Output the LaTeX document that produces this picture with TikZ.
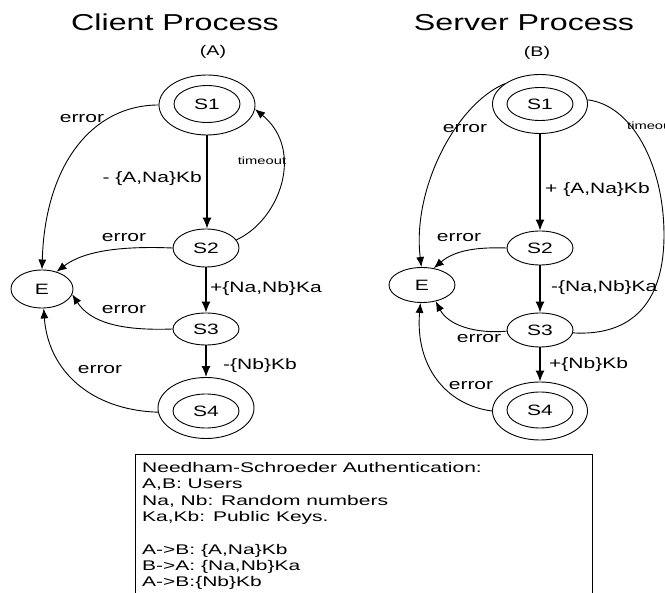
\documentclass[tikz,border=0pt]{standalone}
\usepackage{fontspec}
\setmainfont[FakeStretch=1.4]{Liberation Sans}
\newfontfamily\notefont[FakeStretch=1.5]{Liberation Sans}
\usetikzlibrary{arrows.meta,shapes.geometric}

\begin{document}
\begin{tikzpicture}[x=1pt,y=-1pt,
  state/.style={draw,ellipse,line width=0.9pt,minimum width=66pt,minimum height=36pt,
    inner sep=0pt,font=\fontsize{15}{18}\selectfont},
  outerring/.style={draw,ellipse,line width=0.9pt,minimum width=96pt,minimum height=60pt,inner sep=0pt},
  tr/.style={line width=0.9pt,-{Latex[length=10pt,width=8pt]}},
  mainarrow/.style={line width=1.2pt,-{Latex[length=11pt,width=9pt]}},
  lbl/.style={font=\fontsize{15}{18}\selectfont,inner sep=0pt},
  small/.style={font=\fontsize{10.5}{12}\selectfont,inner sep=0pt},
  heading/.style={font=\fontsize{23}{28}\selectfont,inner sep=0pt},
  sub/.style={font=\fontsize{14}{17}\selectfont,inner sep=0pt},
  noteline/.style={font=\notefont\fontsize{14}{16}\selectfont,inner sep=0pt,anchor=base west}]

\useasboundingbox (0,0) rectangle (665,593);
\clip (0,0) rectangle (665,593);

% ---------- client side ----------
\node[heading] (ctitle) at (175,22) {Client Process};
\node[sub] (clabel) at (213,52) {(A)};

\node[outerring] (cS1o) at (207,105) {};
\node[state,minimum height=37pt] (cS1) at (207,104) {S1};
\node[state,minimum height=38pt] (cS2) at (206,248) {S2};
\node[state,minimum height=32pt] (cS3) at (206,329) {S3};
\node[outerring,minimum height=61pt] (cS4o) at (206,408) {};
\node[state,minimum height=34pt] (cS4) at (206,411) {S4};
\node[state,minimum width=62pt,minimum height=38pt] (cE) at (42,289) {E};

\draw[mainarrow] (cS1o.south) -- (cS1o.south |- cS2.north);
\draw[mainarrow] (cS2.south) -- (cS3.north);
\draw[mainarrow] (cS3.south) -- (cS3.south |- cS4o.north);

\node[lbl,anchor=east] (cm1) at (202,179) {- \{A,Na\}Kb};
\node[lbl,anchor=west] (cm2) at (210,289) {+\{Na,Nb\}Ka};
\node[lbl,anchor=west] (cm3) at (223,366) {-\{Nb\}Kb};

\draw[tr] (cS1o.180) .. controls (92,105) and (45,165) .. (cE.90);
\node[lbl] (ce1) at (82,119) {error};
\draw[tr] (cS2.15) .. controls (280,220) and (305,150) .. (cS1o.-5);
\node[small] (cto) at (262,161) {timeout};
\draw[tr] (cS2.180) .. controls (125,246) and (85,250) .. (cE.50);
\node[lbl] (ce2) at (124,238) {error};
\draw[tr] (cS3.180) .. controls (120,331) and (90,322) .. (cE.-10);
\node[lbl] (ce3) at (124,310) {error};
\draw[tr] (cS4o.185) .. controls (90,410) and (48,370) .. (cE.-85);
\node[lbl] (ce4) at (100,370) {error};

% ---------- server side ----------
\node[heading] (stitle) at (524,23) {Server Process};
\node[sub] (slabel) at (537,53) {(B)};

\node[outerring,minimum width=95pt,minimum height=59pt] (sS1o) at (540,104) {};
\node[state,minimum height=33pt] (sS1) at (540,104) {S1};
\node[state,minimum height=34pt] (sS2) at (540,248) {S2};
\node[state,minimum height=34pt] (sS3) at (540,330) {S3};
\node[outerring,minimum width=95pt,minimum height=58pt] (sS4o) at (540,411) {};
\node[state,minimum height=36pt] (sS4) at (540,410) {S4};
\node[state,minimum height=35pt] (sE) at (422,285) {E};

\draw[mainarrow] (sS1o.south) -- (sS2.north);
\draw[mainarrow] (sS2.south) -- (sS3.north);
\draw[mainarrow] (sS3.south) -- (sS4o.north);

\node[lbl,anchor=west] (sm1) at (545,190) {+ \{A,Na\}Kb};
\node[lbl,anchor=west] (sm2) at (551,288) {-\{Na,Nb\}Ka};
\node[lbl,anchor=west] (sm3) at (549,365) {+\{Nb\}Kb};

\draw[tr] (sS1o.150) .. controls (455,105) and (412,190) .. (sE.92);
\node[lbl] (se1) at (465,129) {error};
\coordinate (sTm) at (664,235);
\draw[line width=0.9pt] (sS1o.5) .. controls (632,105) and (664,165) .. (sTm)
  .. controls (664,310) and (625,336) .. (sS3.-5);
\node[small,anchor=west] (sto) at (627,126) {timeout};
\draw[tr] (sS2.180) .. controls (478,247) and (455,250) .. (sE.55);
\node[lbl] (se2) at (459,238) {error};
\draw[tr] (sS3.182) .. controls (475,334) and (448,325) .. (sE.-50);
\node[lbl] (se3) at (479,339) {error};
\draw[tr] (sS4o.180) .. controls (445,405) and (415,365) .. (sE.-95);
\node[lbl] (se4) at (471,386) {error};

% ---------- protocol note ----------
\draw[line width=0.9pt] (135,600) -- (135,454) -- (592,454) -- (592,600);
\node[noteline] (n1) at (142,473) {Needham-Schroeder Authentication:};
\node[noteline] (n2) at (142,489) {A,B: Users};
\node[noteline] (n3) at (142,506) {Na, Nb: Random numbers};
\node[noteline] (n4) at (142,522) {Ka,Kb: Public Keys.};
\node[noteline] (n5) at (142,555) {A->B: \{A,Na\}Kb};
\node[noteline] (n6) at (142,571) {B->A: \{Na,Nb\}Ka};
\node[noteline] (n7) at (142,587) {A->B:\{Nb\}Kb};
\end{tikzpicture}
\end{document}
